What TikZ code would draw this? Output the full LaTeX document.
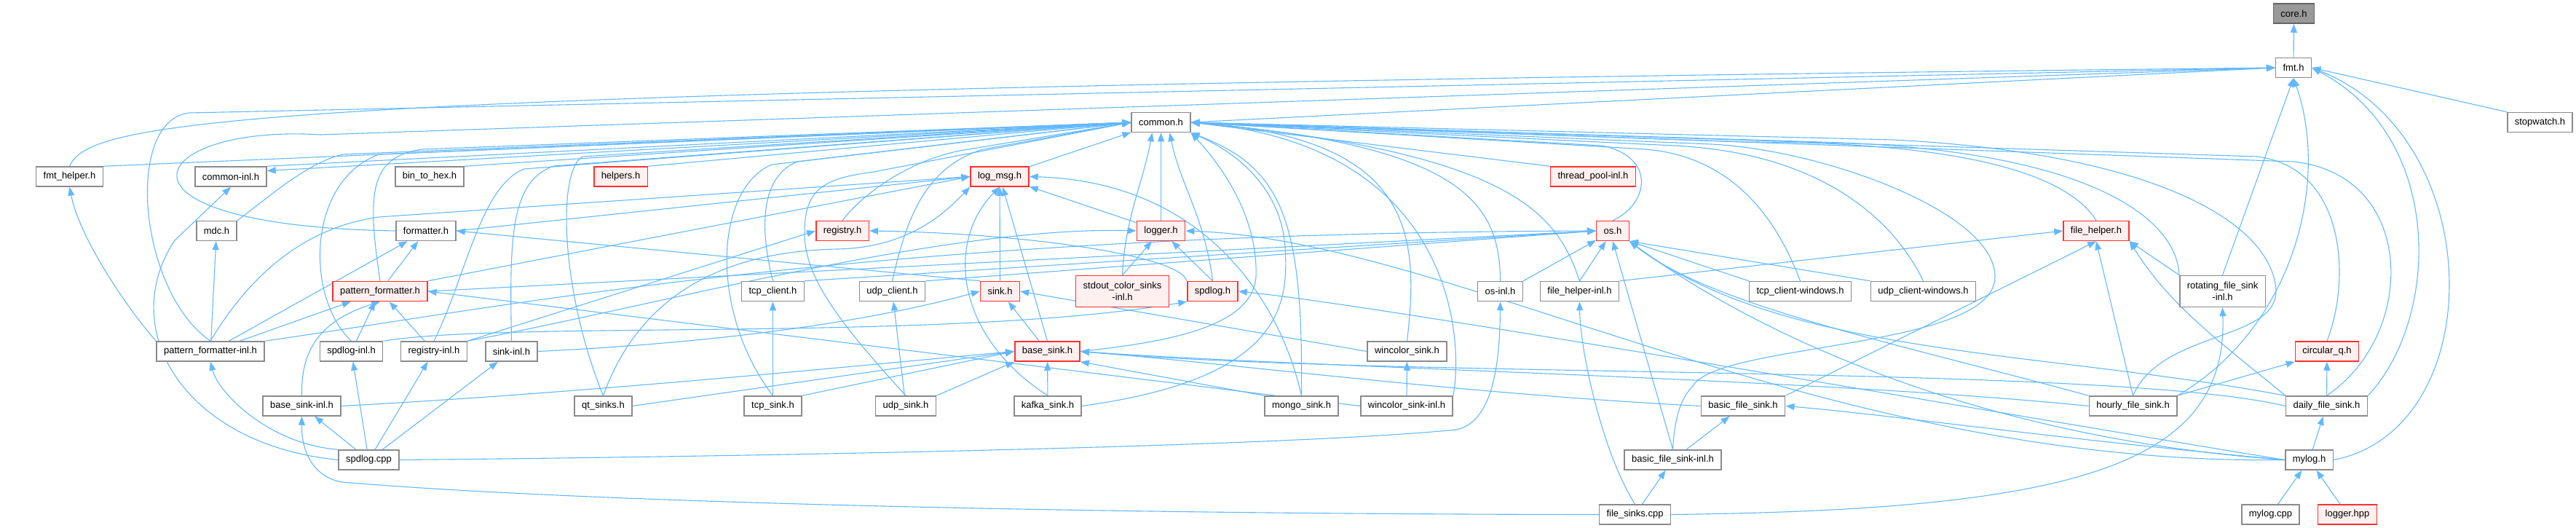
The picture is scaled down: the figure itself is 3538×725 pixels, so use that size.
\documentclass[tikz,border=0pt]{standalone}
\usepackage{fontspec}
\setmainfont{Liberation Sans}
\usepackage{xcolor}
\usepackage{tikz}
\usetikzlibrary{arrows.meta,backgrounds}
\definecolor{IGEdge}{HTML}{63B8FF}
\definecolor{IGLine}{HTML}{8A8A8A}
\definecolor{IGRed}{HTML}{FF3030}
\definecolor{IGRedFill}{HTML}{FFF0F0}
\definecolor{IGRoot}{HTML}{999999}
\definecolor{IGRootLine}{HTML}{666666}

\begin{document}
\begin{tikzpicture}[
  x=1pt, y=-1pt,
  file/.style={draw=IGLine, line width=1.5pt, fill=white, minimum height=27pt, inner xsep=10pt, inner ysep=2pt, font=\fontsize{13}{16}\selectfont},
  redfile/.style={file, draw=IGRed, fill=IGRedFill},
  rootfile/.style={file, draw=IGRootLine, fill=IGRoot},
  twoline/.style={align=center, minimum height=43pt},
  arrow/.style={-{Triangle[length=12pt,width=9pt]}, line width=1.1pt, draw=IGEdge}
]
\useasboundingbox (0,0) rectangle (3538,725);
% row 0 - 1
\node[rootfile] (core) at (3150.5,18.5) {core.h};
\node[file] (fmt) at (3150,93) {fmt.h};
\node[file] (common) at (1594.5,168) {common.h};
\node[file] (stopwatch) at (3488.5,168) {stopwatch.h};
% row 2
\node[file] (fmthelper) at (95.5,242.5) {fmt\_helper.h};
\node[file] (commoninl) at (317,242.5) {common-inl.h};
\node[file] (bintohex) at (590,242.5) {bin\_to\_hex.h};
\node[redfile] (helpers) at (852.5,242.5) {helpers.h};
\node[redfile] (logmsg) at (1373,242.5) {log\_msg.h};
\node[redfile] (threadpool) at (2188,242.5) {thread\_pool-inl.h};
% row 3
\node[file] (mdc) at (297.5,317) {mdc.h};
\node[file] (formatter) at (585,317) {formatter.h};
\node[redfile] (registry) at (1157,317) {registry.h};
\node[redfile] (logger) at (1594.5,317) {logger.h};
\node[redfile] (os) at (2215,317) {os.h};
\node[redfile] (filehelper) at (2879,317) {file\_helper.h};
% row 4
\node[redfile] (pformatter) at (522,400) {pattern\_formatter.h};
\node[file] (tcpclient) at (1061.5,400) {tcp\_client.h};
\node[file] (udpclient) at (1225.5,400) {udp\_client.h};
\node[redfile] (sink) at (1373.5,400) {sink.h};
\node[redfile, twoline] (stdoutinl) at (1541.5,400) {stdout\_color\_sinks\\-inl.h};
\node[redfile] (spdlogh) at (1665.5,400) {spdlog.h};
\node[file] (osinl) at (2060.5,400) {os-inl.h};
\node[file] (filehelperinl) at (2169.5,400) {file\_helper-inl.h};
\node[file] (tcpwin) at (2472.5,400) {tcp\_client-windows.h};
\node[file] (udpwin) at (2641.5,400) {udp\_client-windows.h};
\node[file, twoline] (rotinl) at (3052.5,400) {rotating\_file\_sink\\-inl.h};
% row 5
\node[file] (pfinl) at (289,482.5) {pattern\_formatter-inl.h};
\node[file] (spdloginl) at (482.5,482.5) {spdlog-inl.h};
\node[file] (registryinl) at (596,482.5) {registry-inl.h};
\node[file] (sinkinl) at (702.5,482.5) {sink-inl.h};
\node[redfile] (basesink) at (1438.5,482.5) {base\_sink.h};
\node[file] (wincolor) at (1932.5,482.5) {wincolor\_sink.h};
\node[redfile] (circq) at (3196,482.5) {circular\_q.h};
% row 6
\node[file] (basesinkinl) at (414.5,557.5) {base\_sink-inl.h};
\node[file] (qtsinks) at (828.5,557.5) {qt\_sinks.h};
\node[file] (tcpsink) at (1061.5,557.5) {tcp\_sink.h};
\node[file] (udpsink) at (1244,557.5) {udp\_sink.h};
\node[file] (kafka) at (1439,557.5) {kafka\_sink.h};
\node[file] (mongo) at (1787.5,557.5) {mongo\_sink.h};
\node[file] (wincolorinl) at (1932,557.5) {wincolor\_sink-inl.h};
\node[file] (basicfile) at (2394,557.5) {basic\_file\_sink.h};
\node[file] (hourly) at (2929.5,557.5) {hourly\_file\_sink.h};
\node[file] (daily) at (3195.5,557.5) {daily\_file\_sink.h};
% row 7 - 8
\node[file] (spdlogcpp) at (506.5,631.5) {spdlog.cpp};
\node[file] (basicfileinl) at (2297.5,631.5) {basic\_file\_sink-inl.h};
\node[file] (mylog) at (3171.5,631.5) {mylog.h};
\node[file] (filesinks) at (2245.5,706.5) {file\_sinks.cpp};
\node[file] (mylogcpp) at (3118.5,706.5) {mylog.cpp};
\node[redfile] (loggerhpp) at (3224,706.5) {logger.hpp};

\begin{scope}[on background layer]
% fmt.h and core.h
\draw[arrow] (fmt) -- (core);
\draw[arrow] (common.east) -- (fmt.west);
\draw[arrow] (fmthelper.north) .. controls (125,165) and (300,125) .. (fmt.west);
\draw[arrow] (pfinl.north) .. controls (190,400) and (170,165) .. (260,155) -- (fmt.west);
\draw[arrow] (formatter.west) .. controls (120,310) and (200,170) .. (440,185) -- (fmt.west);
\draw[arrow] (stopwatch.north west) -- (fmt.east);
\draw[arrow] (rotinl.north) -- (fmt.south);
\draw[arrow] (hourly.north east) .. controls (3150,450) and (3200,250) .. (fmt.south);
\draw[arrow] (daily.north east) .. controls (3350,440) and (3360,190) .. (fmt.east);
\draw[arrow] (mylog.east) .. controls (3420,590) and (3420,190) .. (fmt.east);
% common.h, left side
\draw[arrow] (commoninl.north east) -- (common.west);
\draw[arrow] (common.west) -- ([yshift=8pt]commoninl.east);
\draw[arrow] (fmthelper.north east) -- (common.west);
\draw[arrow] (bintohex.north east) -- (common.west);
\draw[arrow] (helpers.north east) -- (common.west);
\draw[arrow] (mdc.north east) .. controls (370,270) and (420,225) .. (470,212) -- (common.west);
\draw[arrow] (pformatter.north) .. controls (505,270) and (505,215) .. (580,205) -- (common.west);
\draw[arrow] (spdloginl.north) .. controls (420,410) and (420,250) .. (520,212) -- (common.west);
\draw[arrow] (registryinl.north) .. controls (640,380) and (660,255) .. (720,232) -- (common.west);
\draw[arrow] (sinkinl.north) .. controls (700,330) and (700,250) .. (760,228) -- (common.west);
\draw[arrow] (qtsinks.north) .. controls (770,400) and (765,235) .. (800,215) -- (common.west);
\draw[arrow] (tcpsink.north) .. controls (975,430) and (980,260) .. (1060,226) -- (common.west);
\draw[arrow] (tcpclient.north) .. controls (1040,300) and (1050,240) .. (1095,222) -- (common.west);
\draw[arrow] (udpsink.north) .. controls (1150,440) and (1105,380) .. (1105,320) .. controls (1105,260) and (1130,245) .. (1200,236) -- (common.west);
\draw[arrow] (udpclient.north) .. controls (1245,300) and (1270,230) .. (1350,205) -- (common.west);
\draw[arrow] (registry.north) .. controls (1190,260) and (1260,215) .. (1330,205) -- (common.west);
\draw[arrow] (logmsg) -- (common);
\draw[arrow] (logger) -- (common);
\draw[arrow] (stdoutinl.north) .. controls (1545,300) and (1570,250) .. ([xshift=-12pt]common.south);
\draw[arrow] (spdlogh.north) .. controls (1655,300) and (1620,250) .. ([xshift=12pt]common.south);
\draw[arrow] (basesink.east) .. controls (1600,470) and (1720,450) .. (1725,380) .. controls (1728,300) and (1680,230) .. (common.south east);
\draw[arrow] (kafka.east) .. controls (1760,520) and (1770,420) .. (1765,340) .. controls (1760,260) and (1700,210) .. (common.south east);
\draw[arrow] (mongo.north) .. controls (1790,300) and (1760,230) .. (common.south east);
% common.h, right side
\draw[arrow] (threadpool.north west) -- (common.east);
\draw[arrow] (os.north) .. controls (2265,280) and (2275,215) .. (2200,200) -- (common.east);
\draw[arrow] (wincolor.north) .. controls (1950,320) and (1940,190) .. (common.east);
\draw[arrow] (wincolorinl.north east) .. controls (2010,470) and (2000,200) .. (common.east);
\draw[arrow] (osinl.north) .. controls (2060,280) and (2010,200) .. (common.east);
\draw[arrow] (filehelperinl.north) .. controls (2140,300) and (2090,210) .. (common.east);
\draw[arrow] (tcpwin.north) .. controls (2440,300) and (2380,215) .. (2260,205) -- (common.east);
\draw[arrow] (udpwin.north) .. controls (2600,300) and (2500,210) .. (2300,200) -- (common.east);
\draw[arrow] (filehelper.north) .. controls (2840,240) and (2700,195) .. (2400,195) -- (common.east);
\draw[arrow] (rotinl.north west) .. controls (2990,300) and (2870,205) .. (2500,195) -- (common.east);
\draw[arrow] (hourly.north) .. controls (2970,450) and (3140,470) .. (3125,390) .. controls (3110,300) and (2950,210) .. (2600,192) -- (common.east);
\draw[arrow] (daily.north) .. controls (3320,460) and (3320,240) .. (3150,222) -- (common.east);
\draw[arrow] (circq.north) .. controls (3230,380) and (3220,230) .. (3100,215) -- (common.east);
\draw[arrow] (basicfileinl.north) .. controls (2300,570) and (2310,545) .. (2325,530) .. controls (2360,470) and (2740,480) .. (2740,380) .. controls (2740,290) and (2500,205) .. (2350,198) -- (common.east);
% log_msg.h
\draw[arrow] (formatter.east) -- (logmsg.west);
\draw[arrow] (pfinl.north) .. controls (330,400) and (400,315) .. (520,298) -- (logmsg.west);
\draw[arrow] (pformatter.north east) -- (logmsg.west);
\draw[arrow] (sink) -- (logmsg);
\draw[arrow] (basesink.north) -- (logmsg);
\draw[arrow] (kafka.north) .. controls (1310,460) and (1300,330) .. (logmsg.south);
\draw[arrow] (qtsinks.north) .. controls (880,400) and (1000,345) .. (1150,342) .. controls (1250,340) and (1300,290) .. (logmsg.south west);
\draw[arrow] (logger) -- (logmsg);
\draw[arrow] (mongo.north) .. controls (1760,420) and (1660,250) .. (logmsg.east);
% formatter.h, fmt_helper.h, mdc.h
\draw[arrow] (pformatter) -- (formatter);
\draw[arrow] (pfinl) -- (formatter);
\draw[arrow] (sink.north west) -- (formatter.east);
\draw[arrow] (pfinl.north west) .. controls (180,430) and (110,330) .. (fmthelper.south);
\draw[arrow] (pfinl) -- (mdc);
% pattern_formatter.h
\draw[arrow] (pfinl) -- (pformatter);
\draw[arrow] (spdloginl) -- (pformatter);
\draw[arrow] (registryinl) -- (pformatter);
\draw[arrow] (basesinkinl.north) .. controls (413,480) and (440,440) .. (pformatter.south);
\draw[arrow] (wincolorinl.west) -- (pformatter.east);
% os.h
\draw[arrow] (pformatter.east) -- (os.west);
\draw[arrow] (pfinl.north east) .. controls (700,420) and (1200,320) .. (os.west);
\draw[arrow] (tcpclient.north east) -- (os.west);
\draw[arrow] (udpclient.north east) -- (os.west);
\draw[arrow] (osinl.north east) -- (os);
\draw[arrow] (filehelperinl.north) -- (os);
\draw[arrow] (basicfileinl.north) -- (os.south);
\draw[arrow] (tcpwin.north west) -- (os.south east);
\draw[arrow] (udpwin.north west) -- (os.south east);
\draw[arrow] (hourly.north west) .. controls (2600,470) and (2350,420) .. (os.south east);
\draw[arrow] (daily.north west) .. controls (2800,480) and (2450,490) .. (os.south east);
\draw[arrow] (mylog.west) .. controls (2700,600) and (2400,450) .. (os.south east);
% file_helper.h
\draw[arrow] (filehelperinl.north east) -- (filehelper.west);
\draw[arrow] (basicfile.north east) -- (filehelper.south);
\draw[arrow] (rotinl.north west) -- (filehelper.south east);
\draw[arrow] (hourly.north) -- (filehelper.south);
\draw[arrow] (daily.north west) .. controls (3050,470) and (2980,420) .. (filehelper.south east);
% registry.h, logger.h, spdlog.h
\draw[arrow] (registryinl.north east) -- (registry.west);
\draw[arrow] (spdlogh.north west) .. controls (1620,350) and (1400,320) .. (registry.east);
\draw[arrow] (stdoutinl.north) -- (logger);
\draw[arrow] (spdlogh.north) -- (logger);
\draw[arrow] (registryinl.north east) .. controls (900,420) and (1300,310) .. (logger.west);
\draw[arrow] (mylog.west) .. controls (2500,640) and (2000,330) .. (logger.east);
\draw[arrow] (spdloginl.north east) .. controls (700,440) and (1300,470) .. (spdlogh.south west);
\draw[arrow] (mylog.west) .. controls (2700,560) and (1900,420) .. (spdlogh.east);
% sink.h, base_sink.h
\draw[arrow] (sinkinl.east) .. controls (1000,470) and (1200,440) .. (sink.west);
\draw[arrow] (basesink) -- (sink);
\draw[arrow] (wincolor.west) -- (sink.east);
\draw[arrow] (basesinkinl.east) .. controls (800,540) and (1200,500) .. (basesink.west);
\draw[arrow] (qtsinks.east) -- (basesink.west);
\draw[arrow] (tcpsink.north east) -- (basesink.west);
\draw[arrow] (udpsink.north east) -- (basesink.south west);
\draw[arrow] (kafka) -- (basesink);
\draw[arrow] (mongo.north west) -- (basesink.south east);
\draw[arrow] (basicfile.west) .. controls (2000,540) and (1700,500) .. (basesink.east);
\draw[arrow] (hourly.west) .. controls (2500,520) and (1800,505) .. (basesink.east);
\draw[arrow] (daily.west) .. controls (2900,500) and (1900,520) .. (basesink.east);
% clients
\draw[arrow] (tcpsink) -- (tcpclient);
\draw[arrow] (udpsink) -- (udpclient);
% inl files and sources
\draw[arrow] (spdlogcpp.east) .. controls (1200,625) and (1800,610) .. (2000,590) .. controls (2050,580) and (2060,500) .. (osinl.south);
\draw[arrow] (filesinks.north) .. controls (2200,620) and (2170,480) .. (filehelperinl.south);
\draw[arrow] (filesinks) -- (basicfileinl);
\draw[arrow] (filesinks.east) .. controls (2850,700) and (3060,640) .. (rotinl.south);
\draw[arrow] (filesinks.west) .. controls (1500,706) and (800,690) .. (470,662) .. controls (430,655) and (414,620) .. (basesinkinl.south);
\draw[arrow] (basicfileinl) -- (basicfile);
\draw[arrow] (mylog.west) .. controls (2800,600) and (2600,570) .. (basicfile.east);
\draw[arrow] (wincolorinl) -- (wincolor);
\draw[arrow] (hourly.north east) -- (circq.south west);
\draw[arrow] (daily) -- (circq);
\draw[arrow] (mylog) -- (daily);
\draw[arrow] (mylogcpp) -- (mylog);
\draw[arrow] (loggerhpp) -- (mylog);
\draw[arrow] (spdlogcpp.west) .. controls (250,610) and (160,450) .. (240,330) -- (commoninl.south);
\draw[arrow] (spdlogcpp.north west) .. controls (370,610) and (300,540) .. (pfinl.south);
\draw[arrow] (spdlogcpp) -- (spdloginl);
\draw[arrow] (spdlogcpp) -- (registryinl);
\draw[arrow] (spdlogcpp) -- (sinkinl);
\draw[arrow] (spdlogcpp) -- (basesinkinl);
\end{scope}
\end{tikzpicture}
\end{document}
